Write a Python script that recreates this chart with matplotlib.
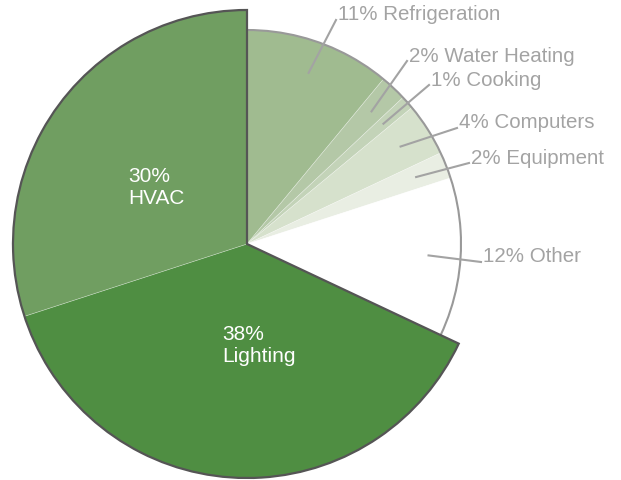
import matplotlib
matplotlib.use("Agg")
import matplotlib.pyplot as plt
from matplotlib.patches import Arc, Wedge
import numpy as np

plt.rcParams['font.family'] = ['Liberation Sans', 'DejaVu Sans']

# share of energy use, clockwise from 12 o'clock
labels = ['Refrigeration', 'Water Heating', 'Cooking', 'Computers',
          'Equipment', 'Other', 'Lighting', 'HVAC']
shares = [11, 2, 1, 4, 2, 12, 38, 30]
colors = ['#a0bb90', '#b4c8a7', '#c3d3b8', '#d6e1cc', '#e9eee3',
          '#ffffff', '#4f8e42', '#709e61']
big = ['Lighting', 'HVAC']

# where the outside labels sit (figure pixels, y down)
label_pos = {
    'Refrigeration': (338, 15),
    'Water Heating': (409, 56),
    'Cooking': (431, 80),
    'Computers': (459, 123),
    'Equipment': (471, 158),
    'Other': (483, 257),
}
inner_pos = {'HVAC': (128, 188), 'Lighting': (222, 346)}

W, H = 621, 481
cx, cy = 247, H - 245
r_small, r_big = 214, 234
grey = '#a3a3a3'

fig = plt.figure(figsize=(W / 100, H / 100), dpi=100)
ax = fig.add_axes([0, 0, 1, 1])

wedges, _ = ax.pie(shares, colors=colors, startangle=90, counterclock=False,
                   radius=r_small, center=(cx, cy), frame=True,
                   wedgeprops=dict(edgecolor='#ffffff55', linewidth=0.5))
ax.set_xlim(0, W)
ax.set_ylim(0, H)
ax.set_aspect('equal')
ax.axis('off')

small_angles, big_angles = [], []
for w, lab in zip(wedges, labels):
    if lab in big:
        w.set_radius(r_big)
        w.set_zorder(3)
        big_angles += [w.theta1, w.theta2]
    else:
        small_angles += [w.theta1, w.theta2]

# outline round the two big slices together, grey rim on the small ones
ax.add_patch(Wedge((cx, cy), r_big, min(big_angles), max(big_angles),
                   fill=False, edgecolor='#555555', lw=1.6, zorder=4))
ax.add_patch(Arc((cx, cy), 2 * r_small, 2 * r_small, theta1=min(small_angles),
                 theta2=max(small_angles), color='#999999', lw=1.5, zorder=2))

for w, lab, s in zip(wedges, labels, shares):
    mid = np.deg2rad((w.theta1 + w.theta2) / 2)
    if lab in big:
        x, y = inner_pos[lab]
        ax.text(x, H - y, f'{s}%\n{lab}', color='white', fontsize=15,
                ha='left', va='center', linespacing=1.2, zorder=5)
        continue
    rr = r_small * 0.85
    x0, y0 = cx + rr * np.cos(mid), cy + rr * np.sin(mid)
    tx, ty = label_pos[lab]
    ty = H - ty
    ax.plot([x0, tx - 2], [y0, ty - 6], color=grey, lw=1.5, zorder=4)
    ax.text(tx, ty, f'{s}% {lab}', color=grey, fontsize=14.8,
            ha='left', va='center', zorder=5)

fig.savefig('out.png', dpi=100)
